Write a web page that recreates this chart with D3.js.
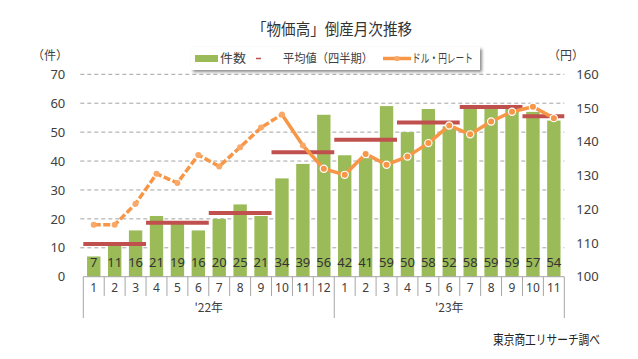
<!DOCTYPE html>
<html><head><meta charset="utf-8">
<script src="https://cdn.jsdelivr.net/npm/d3@7/dist/d3.min.js"></script>
<style>
html,body{margin:0;padding:0;background:#fff;}
text{font-family:"Noto Sans CJK JP","Noto Sans",sans-serif;fill:#404040;}
</style></head>
<body>
<svg id="c" width="638" height="359"></svg>
<script>
const months = ["1","2","3","4","5","6","7","8","9","10","11","12","1","2","3","4","5","6","7","8","9","10","11"];
const years = ["'22年","'23年"];
const counts = [7,11,16,21,19,16,20,25,21,34,39,56,42,41,59,50,58,52,58,59,59,57,54];
const yen = [115.4,115.4,121.6,130.5,127.8,136.1,132.7,138.4,144.2,148.1,138.9,132.0,130.2,136.4,133.2,135.6,139.6,144.8,142.2,146.0,148.9,150.4,147.0];
const quarters = [[0,2],[3,5],[6,8],[9,11],[12,14],[15,17],[18,20],[21,22]];
const leftTicks = [0,10,20,30,40,50,60,70];
const rightTicks = [100,110,120,130,140,150,160];

const svg = d3.select("#c");
const L=83.3, R=564.3, T=74.3, B=276.7;
const idx = d3.range(counts.length);
const x = d3.scaleBand().domain(idx).range([L,R]).paddingInner(0.36).paddingOuter(0.18);
const xb = d3.scaleBand().domain(idx).range([L,R]);
const y = d3.scaleLinear().domain([0,70]).range([B,T]);
const y2 = d3.scaleLinear().domain([100,160]).range([B,T]);

// title
svg.append("text").attr("x",252).attr("y",35)
  .attr("textLength",160).attr("lengthAdjust","spacingAndGlyphs")
  .style("font-size","16px").style("fill","#333").text("「物価高」倒産月次推移");

// gridlines
svg.append("g").selectAll("line").data(leftTicks.filter(d=>d>0)).join("line")
  .attr("x1",L-3).attr("x2",R).attr("y1",d=>y(d)).attr("y2",d=>y(d))
  .attr("stroke","#8c8c8c").attr("stroke-width",0.8).attr("stroke-dasharray","4,3");

// axes labels
const ga = svg.append("g").attr("transform",`translate(${L-6},0)`)
  .call(d3.axisLeft(y).tickValues(leftTicks).tickSize(0).tickPadding(12));
ga.select(".domain").remove();
ga.selectAll("text").style("font-size","13px").style("font-family","'Noto Sans',sans-serif").style("fill","#404040");
const gb = svg.append("g").attr("transform",`translate(${R+2},0)`)
  .call(d3.axisRight(y2).tickValues(rightTicks).tickSize(0).tickPadding(10));
gb.select(".domain").remove();
gb.selectAll("text").style("font-size","13px").style("font-family","'Noto Sans',sans-serif").style("fill","#404040");

svg.append("text").attr("x",50).attr("y",60).attr("text-anchor","middle").style("font-size","12px").text("（件）");
svg.append("text").attr("x",566).attr("y",60).attr("text-anchor","middle").style("font-size","12px").text("（円）");

// bars
svg.append("g").selectAll("rect").data(counts).join("rect")
  .attr("x",(d,i)=>x(i)).attr("width",x.bandwidth())
  .attr("y",d=>y(d)).attr("height",d=>B-y(d)).attr("fill","#9bbb59");

// bar labels
svg.append("g").selectAll("text").data(counts).join("text")
  .attr("x",(d,i)=>xb(i)+xb.bandwidth()/2).attr("y",B-10)
  .attr("text-anchor","middle").style("font-size","13px").style("font-family","'Noto Sans',sans-serif")
  .style("fill","#333").text(d=>d);

// quarter averages
svg.append("g").selectAll("line").data(quarters).join("line")
  .attr("x1",q=>xb(q[0])).attr("x2",q=>xb(q[1])+xb.bandwidth())
  .attr("y1",q=>y(d3.mean(counts.slice(q[0],q[1]+1))))
  .attr("y2",q=>y(d3.mean(counts.slice(q[0],q[1]+1))))
  .attr("stroke","#c0504d").attr("stroke-width",4);

// yen line
const cx = i=>xb(i)+xb.bandwidth()/2;
const line = d3.line().x(i=>cx(i)).y(i=>y2(yen[i]));
const split = 9;
svg.append("path").attr("d",line(d3.range(0,split+1))).attr("fill","none")
  .attr("stroke","#f79646").attr("stroke-width",3.5).attr("stroke-dasharray","7,2.5");
svg.append("path").attr("d",line(d3.range(split,yen.length))).attr("fill","none")
  .attr("stroke","#f79646").attr("stroke-width",3.5).attr("stroke-linejoin","round");
svg.append("g").selectAll("circle").data(idx).join("circle")
  .attr("cx",i=>cx(i)).attr("cy",i=>y2(yen[i]))
  .attr("r",i=>i>=11?3.6:3)
  .attr("fill",i=>i>=11?"#f79646":"#f9a868")
  .attr("stroke",i=>i>=11?"#fff":"none").attr("stroke-width",1.2);

// category axis
const ax = svg.append("g").attr("stroke","#a6a6a6").attr("stroke-width",1);
ax.append("line").attr("x1",L).attr("x2",R).attr("y1",B).attr("y2",B);
ax.selectAll("line.t").data(d3.range(counts.length+1)).join("line").attr("class","t")
  .attr("x1",i=>L+i*xb.step()).attr("x2",i=>L+i*xb.step())
  .attr("y1",B).attr("y2",i=>(i===0||i===12||i===counts.length)?318:296);
svg.append("g").selectAll("text").data(months).join("text")
  .attr("x",(d,i)=>cx(i)).attr("y",292).attr("text-anchor","middle")
  .style("font-size","12px").style("font-family","'Noto Sans',sans-serif").text(d=>d);
const yearRange=[[0,11],[12,22]];
svg.append("g").selectAll("text").data(years).join("text")
  .attr("x",(d,i)=>(xb(yearRange[i][0])+xb(yearRange[i][1])+xb.bandwidth())/2)
  .attr("y",312).attr("text-anchor","middle").style("font-size","12px").text(d=>d);

// source
svg.append("text").attr("x",493).attr("y",344)
  .attr("textLength",107).attr("lengthAdjust","spacingAndGlyphs")
  .style("font-size","13px").style("fill","#222").text("東京商工リサーチ調べ");

// legend
const defs = svg.append("defs");
const f = defs.append("filter").attr("id","sh").attr("x","-10%").attr("y","-30%").attr("width","130%").attr("height","180%");
f.append("feDropShadow").attr("dx",2).attr("dy",2).attr("stdDeviation",1.5).attr("flood-color","#000").attr("flood-opacity",0.45);
const lg = svg.append("g");
lg.append("rect").attr("x",191).attr("y",47).attr("width",289).attr("height",23).attr("fill","#fff").attr("filter","url(#sh)");
lg.append("rect").attr("x",195).attr("y",55).attr("width",23).attr("height",7).attr("fill","#9bbb59");
lg.append("text").attr("x",220).attr("y",63).attr("textLength",26).attr("lengthAdjust","spacingAndGlyphs")
  .style("font-size","12px").text("件数");
lg.append("line").attr("x1",256).attr("x2",261).attr("y1",58.5).attr("y2",58.5).attr("stroke","#c0504d").attr("stroke-width",1.5);
lg.append("text").attr("x",283).attr("y",63).attr("textLength",90).attr("lengthAdjust","spacingAndGlyphs")
  .style("font-size","12px").text("平均値（四半期）");
lg.append("line").attr("x1",383).attr("x2",411).attr("y1",58.5).attr("y2",58.5).attr("stroke","#f79646").attr("stroke-width",3.5);
lg.append("circle").attr("cx",397).attr("cy",58.5).attr("r",2.6).attr("fill","#f9a868");
lg.append("text").attr("x",412).attr("y",63).attr("textLength",61).attr("lengthAdjust","spacingAndGlyphs")
  .style("font-size","12px").text("ドル・円レート");
</script>
</body></html>
